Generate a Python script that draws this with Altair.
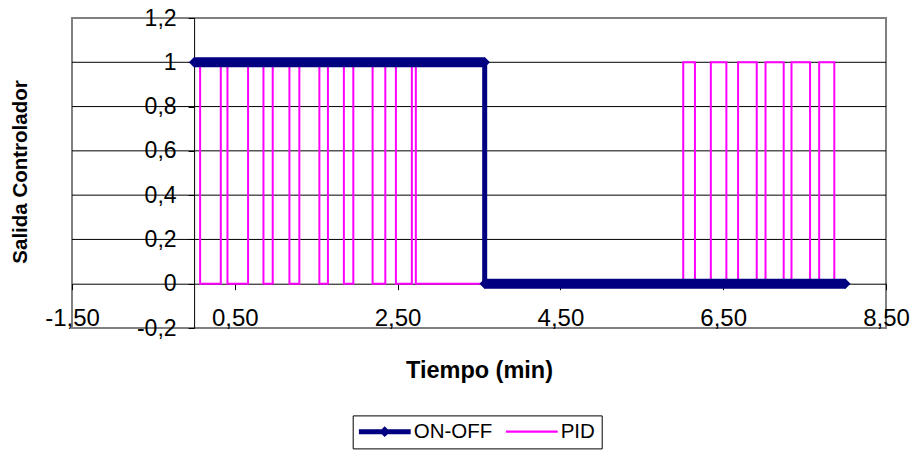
import altair as alt
import pandas as pd

# ---- data ----
series_names = ["ON-OFF", "PID"]
series_colors = ["#000080", "#FF00FF"]

# ON-OFF controller output (switch times, value held after each time)
onoff_t = [0.0, 3.57, 8.0]
onoff_v = [1, 0, 0]

# PID controller output (switch times, value held after each time)
pid_t = [0.0, 0.074, 0.328, 0.41, 0.663, 0.852, 0.966, 1.171, 1.293, 1.539,
         1.644, 1.84, 1.956, 2.193, 2.349, 2.479, 2.675, 2.724, 6.009, 6.153,
         6.348, 6.539, 6.683, 6.912, 7.02, 7.243, 7.339, 7.567, 7.679, 7.865, 8.0]
pid_v = [1, 0, 1, 0, 1, 0, 1, 0, 1, 0,
         1, 0, 1, 0, 1, 0, 1, 0, 1, 0,
         1, 0, 1, 0, 1, 0, 1, 0, 1, 0, 0]

y_ticks = [-0.2, 0.0, 0.2, 0.4, 0.6, 0.8, 1.0, 1.2]
y_grid = [0.2, 0.4, 0.6, 0.8, 1.0]
x_ticks = [-1.5, 0.5, 2.5, 4.5, 6.5, 8.5]

# ---- tables ----
pid_df = pd.DataFrame({"t": pid_t, "v": pid_v, "serie": "PID"})
onoff_df = pd.DataFrame({"t": onoff_t, "v": onoff_v, "serie": "ON-OFF"})
seg_df = pd.DataFrame({"t0": onoff_t[:-1], "t1": onoff_t[1:], "v": onoff_v[:-1]})
ends_df = pd.DataFrame({"t": onoff_t[:-1] + onoff_t[1:], "v": onoff_v[:-1] * 2})
grid_df = pd.DataFrame({"g": y_grid})
legend_df = pd.DataFrame({"serie": series_names})

FONT = "Liberation Sans"

xs = alt.Scale(domain=[-1.5, 8.5], nice=False, zero=False)
ys = alt.Scale(domain=[-0.2, 1.2], nice=False, zero=False)
cs = alt.Scale(domain=series_names, range=series_colors)

onoff_shape = ("M-1,-0.096L-0.114,-0.096L0,-0.21L0.114,-0.096L1,-0.096L1,0.096"
               "L0.114,0.096L0,0.21L-0.114,0.096L-1,0.096Z")
pid_shape = "M-1,-0.04L1,-0.04L1,0.04L-1,0.04Z"
ss = alt.Scale(domain=series_names, range=[onoff_shape, pid_shape])

x_axis = alt.Axis(
    values=x_ticks, offset=-44.3, grid=False, zindex=0,
    domainColor="black", domainWidth=1, tickColor="black", tickSize=6, tickWidth=1,
    labelPadding=17, labelFlush=False, labelOverlap=False, labelBaseline="top",
    labelFont=FONT, labelFontSize=24, labelColor="black",
    labelExpr="(datum.value < 0 ? '-' : '') + replace(format(abs(datum.value), '.2f'), '.', ',')",
    title="Tiempo (min)", titleFont=FONT, titleFontSize=23.5, titleFontWeight="bold",
    titleColor="black", titleY=75, titleBaseline="top",
)
y_axis = alt.Axis(
    values=y_ticks, offset=-122.1, grid=False, zindex=0,
    domainColor="black", domainWidth=1, tickColor="black", tickSize=6, tickWidth=1,
    labelPadding=12, labelOverlap=False,
    labelFont=FONT, labelFontSize=23, labelColor="black",
    labelExpr="(datum.value < 0 ? '-' : '') + replace(format(abs(datum.value), '.1~f'), '.', ',')",
    title="Salida Controlador", titleFont=FONT, titleFontSize=20.5, titleFontWeight="bold",
    titleColor="black", titleAngle=270, titleX=-173.5, titleY=153.5,
    titleAlign="center", titleBaseline="middle",
)

legend = alt.Legend(
    title=None, orient="none", legendX=280.7, legendY=397.4,
    direction="horizontal", symbolSize=2704, clipHeight=20,
    labelFont=FONT, labelFontSize=20.5, labelColor="black", labelOffset=3,
    labelExpr="datum.label === 'PID' ? 'PID  ' : datum.label",
    columnPadding=13, padding=6, strokeColor="black", fillColor="white",
    symbolStrokeWidth=0, symbolOpacity=1,
)

grid = alt.Chart(grid_df).mark_rule(color="black", strokeWidth=1).encode(
    y=alt.Y("g:Q", scale=ys, axis=y_axis),
)

pid_line = alt.Chart(pid_df).mark_line(interpolate="step-after", strokeWidth=2).encode(
    x=alt.X("t:Q", scale=xs, axis=x_axis),
    y=alt.Y("v:Q", scale=ys, axis=y_axis),
    color=alt.Color("serie:N", scale=cs, legend=legend),
)

band = alt.Chart(seg_df).mark_rule(color=series_colors[0], strokeWidth=10, strokeCap="butt").encode(
    x=alt.X("t0:Q", scale=xs, axis=x_axis),
    x2="t1:Q",
    y=alt.Y("v:Q", scale=ys, axis=y_axis),
)

onoff_line = alt.Chart(onoff_df).mark_line(interpolate="step-after", strokeWidth=5).encode(
    x=alt.X("t:Q", scale=xs, axis=x_axis),
    y=alt.Y("v:Q", scale=ys, axis=y_axis),
    color=alt.Color("serie:N", scale=cs, legend=legend),
)

diamonds = alt.Chart(ends_df).mark_point(
    shape="diamond", filled=True, size=110, color=series_colors[0], opacity=1
).encode(
    x=alt.X("t:Q", scale=xs, axis=x_axis),
    y=alt.Y("v:Q", scale=ys, axis=y_axis),
)

# legend-only layer: no data rows survive the filter, the legend comes from the scale domains
legend_layer = alt.Chart(legend_df).mark_point(filled=True, opacity=1, strokeWidth=0).encode(
    color=alt.Color("serie:N", scale=cs, legend=legend),
    shape=alt.Shape("serie:N", scale=ss, legend=legend),
).transform_filter("false")

chart = alt.layer(grid, pid_line, band, onoff_line, diamonds, legend_layer).properties(
    width=814, height=310,
    padding={"left": 72, "top": 18, "right": 28, "bottom": 122},
    autosize=alt.AutoSizeParams(type="none"),
    background="white",
).configure_view(stroke="#808080", strokeWidth=2)

chart.save("out.html", embed_options={"renderer": "svg", "actions": False})
